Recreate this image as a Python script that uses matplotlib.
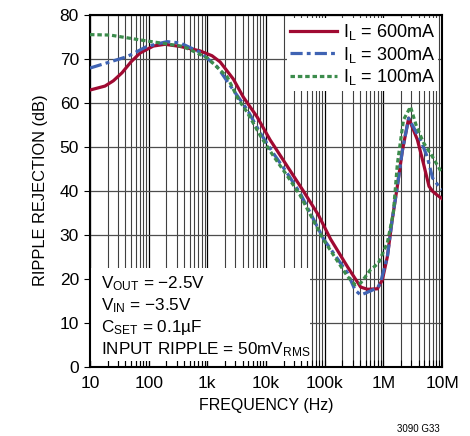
import numpy as np
import matplotlib
matplotlib.use('Agg')
import matplotlib.pyplot as plt
import matplotlib.patches as mpatches
from matplotlib.ticker import FixedLocator, NullFormatter

plt.rcParams['font.family'] = ['Liberation Sans Narrow', 'Liberation Sans', 'DejaVu Sans']
plt.rcParams['mathtext.default'] = 'regular'

# IL = 600mA
f_600 = [10, 18, 25, 35, 50, 71, 120, 190, 345, 750, 1200, 1650, 2770, 4100, 7040, 11700, 19600,
         43000, 78000, 126000, 245000, 410000, 535000, 790000, 960000, 1.17e6, 1.4e6,
         1.73e6, 2.1e6, 2.7e6, 3.8e6, 4.8e6, 6.0e6, 7.0e6, 8.3e6, 10e6]
db_600 = [62.9, 63.8, 65.0, 66.8, 69.3, 71.3, 72.9, 73.3, 72.8, 71.8, 70.7, 69.3, 65.4, 61.3, 56.8, 51.6, 47.0,
          40.0, 34.5, 29.0, 22.7, 18.1, 17.6, 17.7, 19.7, 25.0, 33.0,
          41.0, 49.0, 56.5, 51.6, 46.3, 41.0, 39.8, 39.0, 38.2]

# IL = 300mA
f_300 = [10, 22, 43, 93, 205, 345, 750, 1470, 2770, 4800, 8000, 13200, 22700, 38000,
         96000, 245000, 330000, 410000, 490000, 790000, 890000, 1.17e6, 1.4e6, 1.73e6,
         2.1e6, 2.7e6, 3.4e6, 4.3e6, 5.6e6, 6.9e6, 9.3e6, 10e6]
db_300 = [67.9, 69.3, 70.5, 72.8, 73.9, 73.6, 71.5, 68.2, 62.9, 58.4, 53.1, 48.6, 44.1, 39.5,
          29.0, 21.3, 17.4, 16.3, 16.7, 17.9, 19.0, 25.0, 33.0, 41.0,
          49.0, 56.5, 54.0, 51.6, 47.7, 42.9, 40.6, 40.3]

# IL = 100mA
f_100 = [10, 22, 71, 178, 390, 1000, 2180, 3400, 4800, 8000, 13200, 22700, 38000,
         96000, 245000, 330000, 410000, 600000, 820000, 1.17e6, 1.48e6, 1.73e6, 2.2e6,
         2.9e6, 3.6e6, 4.8e6, 6.9e6, 9.3e6, 10e6]
db_100 = [75.5, 75.4, 74.3, 73.5, 72.8, 70.2, 65.9, 60.7, 57.8, 52.5, 48.0, 43.5, 39.0,
          28.8, 20.5, 18.6, 19.0, 22.0, 23.5, 28.2, 35.0, 46.0, 56.1,
          59.1, 55.0, 51.0, 47.7, 44.7, 44.2]

xtick_vals = [10, 100, 1e3, 1e4, 1e5, 1e6, 1e7]
xtick_labels = ['10', '100', '1k', '10k', '100k', '1M', '10M']
ytick_vals = [0, 10, 20, 30, 40, 50, 60, 70, 80]

notes = ['V$_{OUT}$ = \u22122.5V',
         'V$_{IN}$ = \u22123.5V',
         'C$_{SET}$ = 0.1\u00b5F',
         'INPUT RIPPLE = 50mV$_{RMS}$']

fig = plt.figure(figsize=(4.7, 4.36), dpi=100)
ax = fig.add_axes([0.1915, 0.159, 0.749, 0.807])

ax.set_xscale('log')
ax.set_xlim(10, 1e7)
ax.set_ylim(0, 80)

# grid
ax.set_axisbelow(True)
ax.xaxis.set_major_locator(FixedLocator(xtick_vals))
minors = [m * 10 ** d for d in range(1, 7) for m in range(2, 10)]
ax.xaxis.set_minor_locator(FixedLocator(minors))
ax.xaxis.set_minor_formatter(NullFormatter())
ax.set_xticklabels(xtick_labels)
ax.set_yticks(ytick_vals)
ax.grid(which='major', axis='x', color='black', lw=0.9)
ax.grid(which='minor', axis='x', color='0.25', lw=0.8)
ax.grid(which='major', axis='y', color='0.3', lw=0.9)

ax.tick_params(axis='x', which='both', direction='in', length=5, width=0.8,
               labelsize=12.5, pad=7)
ax.tick_params(axis='y', which='both', direction='out', length=4, width=0.8,
               labelsize=12.5, pad=4)
for s in ax.spines.values():
    s.set_linewidth(1.5)

# white box for conditions
ax.add_patch(mpatches.Rectangle((0, 0.017), 0.626, 0.264, transform=ax.transAxes,
                                facecolor='white', edgecolor='none', zorder=1))

ax.plot(f_600, db_600, color='#a00a32', lw=2.3, label=r'I$_L$ = 600mA', zorder=3)
ax.plot(f_300, db_300, color='#3f63b3', lw=2.3, dashes=(3.8, 1.3, 1.2, 1.3),
        label=r'I$_L$ = 300mA', zorder=3)
ax.plot(f_100, db_100, color='#3c8c4c', lw=2.3, dashes=(1.4, 0.9),
        label=r'I$_L$ = 100mA', zorder=3)

leg = ax.legend(loc='upper right', fontsize=13, frameon=True, fancybox=False,
                edgecolor='none', framealpha=1, borderaxespad=0.2,
                handlelength=2.6, handletextpad=0.3, labelspacing=0.15,
                borderpad=0.2)
leg.set_zorder(4)

for i, t in enumerate(notes):
    ax.text(0.03, 0.237 - i * 0.063, t, transform=ax.transAxes, fontsize=12.3,
            va='center', ha='left', zorder=4)

ax.set_xlabel('FREQUENCY (Hz)', fontsize=11.5, labelpad=5)
ax.set_ylabel('RIPPLE REJECTION (dB)', fontsize=11.8, labelpad=8)

fig.text(0.935, 0.004, '3090 G33', fontsize=7, ha='right', va='bottom')

fig.savefig('out.png', dpi=100)
